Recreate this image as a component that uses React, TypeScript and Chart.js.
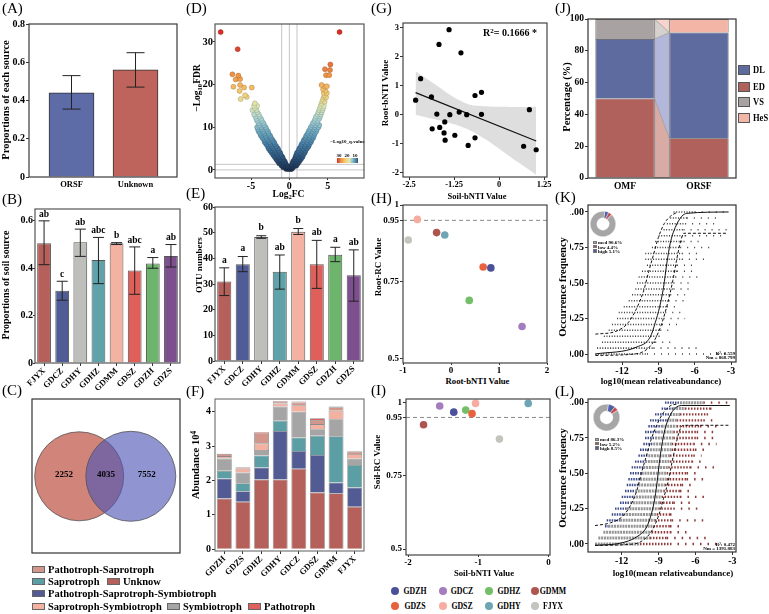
import React, { useEffect, useRef } from 'react';
import { Chart, registerables } from 'chart.js';

Chart.register(...registerables);
const SERIF = '"Liberation Serif", "Times New Roman", serif';
Chart.defaults.font.family = SERIF;
Chart.defaults.color = '#000';

// ================= DATA =================
// (A)
const A_CATS = ['ORSF', 'Unknown'];
const A_VALUES = [0.44, 0.56];
const A_LOW = [0.355, 0.47];
const A_HIGH = [0.53, 0.65];
const A_YTICKS = [0, 0.2, 0.4, 0.6, 0.8];
const A_YLABELS = ['0', '0.2', '0.4', '0.6', '0.8'];

// (B) & (E)
const SITES = ['FJYX', 'GDCZ', 'GDHY', 'GDHZ', 'GDMM', 'GDSZ', 'GDZH', 'GDZS'];
const B_VALUES = [0.505, 0.305, 0.51, 0.435, 0.505, 0.39, 0.42, 0.452];
const B_LOW = [0.415, 0.265, 0.45, 0.335, 0.5, 0.29, 0.4, 0.405];
const B_HIGH = [0.6, 0.345, 0.565, 0.53, 0.508, 0.49, 0.445, 0.5];
const B_LETTERS = ['ab', 'c', 'ab', 'abc', 'b', 'abc', 'a', 'ab'];
const B_YTICKS = [0, 0.2, 0.4, 0.6];
const B_YLABELS = ['0', '0.2', '0.4', '0.6'];

const E_VALUES = [31, 37.7, 48.3, 34.8, 50.4, 37.7, 41.4, 33.4];
const E_LOW = [25.5, 34.8, 47.8, 28, 49.3, 28.3, 38.7, 23.3];
const E_HIGH = [36.3, 40.7, 48.8, 41.3, 51.6, 47, 44.3, 43.3];
const E_LETTERS = ['a', 'a', 'b', 'ab', 'b', 'ab', 'a', 'ab'];
const E_YTICKS = [0, 10, 20, 30, 40, 50, 60];
const E_YLABELS = ['0', '10', '20', '30', '40', '50', '60'];

// (C)
const VENN_COUNTS = ['2252', '4035', '7552'];

// (D) volcano: [log2FC, -log10FDR]
const VOLC_LEFT = [
  [-0.1, 0.2], [-0.4, 0.2], [-0.2, 0.6], [-0.5, 0.6], [-0.8, 0.6], [-0.3, 1.0], [-0.7, 1.0], [-1.0, 1.0],
  [-0.5, 1.5], [-0.9, 1.5], [-1.3, 1.5], [-0.6, 2.0], [-1.0, 2.0], [-1.5, 2.0], [-0.8, 2.5], [-1.2, 2.5], [-1.7, 2.5],
  [-0.9, 3.0], [-1.4, 3.0], [-1.9, 3.0], [-1.1, 3.5], [-1.6, 3.5], [-2.1, 3.5], [-1.2, 4.0], [-1.8, 4.0], [-2.3, 4.0],
  [-1.4, 4.5], [-2.0, 4.5], [-2.5, 4.5], [-1.5, 5.0], [-2.1, 5.0], [-2.7, 5.0], [-1.7, 5.5], [-2.3, 5.5], [-2.8, 5.5],
  [-1.9, 6.0], [-2.5, 6.0], [-3.0, 6.0], [-2.0, 6.5], [-2.6, 6.5], [-3.2, 6.5], [-2.2, 7.0], [-2.8, 7.0], [-3.3, 7.0],
  [-2.4, 7.5], [-3.0, 7.5], [-3.5, 7.5], [-2.5, 8.0], [-3.1, 8.0], [-3.7, 8.0], [-2.7, 8.5], [-3.3, 8.5], [-3.8, 8.5],
  [-2.8, 9.0], [-3.4, 9.0], [-4.0, 9.0], [-3.0, 9.5], [-3.6, 9.5], [-4.1, 9.5], [-3.1, 10.0], [-3.7, 10.0], [-4.2, 10.0],
  [-3.3, 10.5], [-3.9, 10.5], [-3.4, 11.0], [-4.0, 11.0], [-3.6, 11.5], [-4.2, 11.5], [-3.7, 12.0], [-4.3, 12.0],
  [-3.9, 12.5], [-4.4, 12.5], [-4.0, 13.0], [-4.6, 13.0], [-4.2, 13.5], [-4.3, 14.0], [-4.8, 14.0], [-4.5, 14.5],
  [-4.2, 15.0], [-4.6, 15.0], [-4.5, 15.6],
  [-6.35, 16.6], [-5.56, 17.1], [-5.78, 17.5], [-6.5, 18.5], [-4.9, 19.3], [-5.9, 19.3], [-6.43, 19.9], [-7.3, 19.5],
  [-6.43, 21.3], [-7.0, 21.2], [-6.65, 22.1], [-7.43, 22.4], [-6.74, 28.3], [-8.96, 32.3],
];
const VOLC_RIGHT = [
  [0.1, 0.2], [0.3, 0.2], [0.2, 0.6], [0.5, 0.6], [0.3, 1.0], [0.6, 1.0], [0.9, 1.0], [0.4, 1.5], [0.8, 1.5], [1.1, 1.5],
  [0.5, 2.0], [0.9, 2.0], [1.3, 2.0], [0.7, 2.5], [1.1, 2.5], [1.5, 2.5], [0.8, 3.0], [1.2, 3.0], [1.7, 3.0],
  [0.9, 3.5], [1.4, 3.5], [1.8, 3.5], [1.0, 4.0], [1.5, 4.0], [2.0, 4.0], [1.2, 4.5], [1.7, 4.5], [2.1, 4.5],
  [1.3, 5.0], [1.8, 5.0], [2.3, 5.0], [1.5, 5.5], [2.0, 5.5], [2.5, 5.5], [1.6, 6.0], [2.1, 6.0], [2.6, 6.0],
  [1.8, 6.5], [2.3, 6.5], [2.8, 6.5], [1.9, 7.0], [2.4, 7.0], [2.9, 7.0], [2.1, 7.5], [2.6, 7.5], [3.1, 7.5],
  [2.2, 8.0], [2.7, 8.0], [3.2, 8.0], [2.4, 8.5], [2.9, 8.5], [3.3, 8.5], [2.5, 9.0], [3.0, 9.0], [3.5, 9.0],
  [2.7, 9.5], [3.2, 9.5], [3.6, 9.5], [2.8, 10.0], [3.3, 10.0], [3.8, 10.0], [3.0, 10.5], [3.4, 10.5], [3.9, 10.5],
  [3.1, 11.0], [3.6, 11.0], [3.3, 11.5], [3.7, 11.5], [3.4, 12.0], [3.9, 12.0], [3.5, 12.5], [4.0, 12.5],
  [3.7, 13.0], [4.1, 13.0], [3.8, 13.5], [4.2, 13.5], [3.9, 14.0], [4.3, 14.0], [4.0, 14.5], [4.4, 14.5],
  [4.1, 15.0], [4.5, 15.0], [4.2, 15.5], [4.3, 16.0], [4.6, 16.0], [4.4, 16.5], [4.5, 17.0], [4.8, 17.0], [4.6, 17.5],
  [4.5, 18.0], [4.9, 18.0], [4.7, 18.5], [4.4, 18.9], [4.6, 19.5], [4.9, 19.6], [4.2, 19.9],
  [4.78, 22.2], [5.2, 22.2], [5.3, 23.4], [4.65, 23.6], [5.35, 24.7], [6.55, 32.3],
];
const D_VLINES = [-1, 0, 1];
const D_HLINES = [0, 1.3];
const D_XTICKS = [-5, 0, 5];
const D_XLABELS = ['-5', '0', '5'];
const D_YTICKS = [0, 10, 20, 30];
const D_YLABELS = ['0', '10', '20', '30'];
const D_LEGEND_LABELS = ['30', '20', '10'];

// (F)
const F_CATS = ['GDZH', 'GDZS', 'GDHZ', 'GDHY', 'GDCZ', 'GDSZ', 'GDMM', 'FJYX'];
const F_GUILDS = ['Unknow', 'Pathotroph-Saprotroph-Symbiotroph', 'Saprotroph', 'Symbiotroph', 'Saprotroph-Symbiotroph', 'Pathotroph-Saprotroph', 'Pathotroph'];
const F_UNKNOW = [1.48, 1.38, 2.03, 2.03, 2.34, 1.65, 1.63, 1.24];
const F_PSS = [0.58, 0.31, 0.35, 1.41, 0.52, 1.09, 0.31, 0.56];
const F_SAPRO = [0.22, 0.23, 0.35, 0.30, 0.39, 0.56, 1.35, 0.65];
const F_SYMBIO = [0.36, 0.31, 0.16, 0.41, 0.75, 0.19, 0.49, 0.19];
const F_SAPSYM = [0.07, 0.11, 0.19, 0.09, 0.19, 0.15, 0.25, 0.13];
const F_PATSAP = [0.06, 0.04, 0.31, 0.05, 0.08, 0.12, 0.10, 0.07];
const F_PATHO = [0.01, 0.01, 0.02, 0.02, 0.03, 0.05, 0.02, 0.02];
const F_YTICKS = [0, 1, 2, 3, 4];
const F_YLABELS = ['0', '1', '2', '3', '4'];

// (G)
const G_X = [-2.32, -2.18, -1.88, -1.86, -1.73, -1.67, -1.65, -1.53, -1.51, -1.50, -1.39, -1.37, -1.23, -1.11, -1.06, -0.90, -0.86, -0.67, -0.67, -0.49, -0.49, 0.68, 0.84, 1.03];
const G_Y = [0.51, 1.25, 0.62, -0.48, 0.03, 2.43, -0.43, -0.62, -0.24, -0.87, 2.94, 0.01, -0.70, 0.10, 2.14, 0.01, -1.05, 0.67, -0.79, 0.78, 0.02, -1.08, 0.18, -1.20];
const G_FIT_X = [-2.32, 1.03];
const G_FIT_Y = [0.77, -0.90];
const G_BAND_X = [-2.32, -1.76, -1.30, -0.84, -0.37, 0.09, 0.56, 1.03];
const G_BAND_UP = [1.51, 1.04, 0.64, 0.36, 0.30, 0.28, 0.27, 0.28];
const G_BAND_LO = [0.01, -0.16, -0.30, -0.51, -0.85, -1.25, -1.66, -2.06];
const G_XTICKS = [-2.5, -1.25, 0, 1.25];
const G_XLABELS = ['-2.5', '-1.25', '0', '1.25'];
const G_YTICKS = [-2, -1, 0, 1, 2, 3];
const G_YLABELS = ['-2', '-1', '0', '1', '2', '3'];

// (H) & (I)
const RC_SITES = ['GDZH', 'GDCZ', 'GDHZ', 'GDMM', 'GDZS', 'GDSZ', 'GDHY', 'FJYX'];
const H_X = [0.83, 1.48, 0.38, -0.30, 0.67, -0.70, -0.13, -0.89];
const H_Y = [0.795, 0.604, 0.689, 0.91, 0.798, 0.953, 0.902, 0.886];
const I_X = [-1.35, -1.55, -1.18, -1.78, -1.09, -1.04, -0.29, -0.70];
const I_Y = [0.968, 0.989, 0.975, 0.925, 0.963, 0.998, 0.998, 0.876];
const RC_THRESHOLD = 0.95;
const RC_YTICKS = [0.5, 0.75, 0.95, 1];
const RC_YLABELS = ['0.5', '0.75', '0.95', '1'];
const H_XTICKS = [-1, 0, 1, 2];
const H_XLABELS = ['-1', '0', '1', '2'];
const I_XTICKS = [-2, -1, 0];
const I_XLABELS = ['-2', '-1', '0'];

// (J)
const J_CATS = ['OMF', 'ORSF'];
const J_GROUPS = ['ED', 'DL', 'VS', 'HeS'];
const J_ED = [50, 25];
const J_DL = [37.5, 66.5];
const J_VS = [12.5, 0];
const J_HES = [0, 8.5];
const J_YTICKS = [0, 20, 40, 60, 80, 100];
const J_YLABELS = ['0', '20', '40', '60', '80', '100'];

// (K) & (L) neutral community model
const ROW_Y = [0, 0.042, 0.083, 0.125, 0.167, 0.208, 0.25, 0.292, 0.333, 0.375, 0.417, 0.458, 0.5, 0.542, 0.583, 0.625, 0.667, 0.708, 0.75, 0.792, 0.833, 0.875, 0.917, 0.958, 1];
const K_START = [-14.2, -14.06, -13.65, -13.5, -13.1, -12.82, -12.41, -12.27, -11.86, -11.45, -11.18, -10.9, -10.77, -10.63, -10.35, -9.94, -10.08, -10.08, -9.53, -9.26, -8.98, -8.57, -8.3, -8.02, -7.75];
const K_DENSE_END = [-9.94, -9.4, -9.26, -8.98, -8.84, -8.7, -8.57, -8.43, -8.3, -8.16, -8.02, -7.75, -7.75, -7.6, -7.47, -7.47, -7.06, -7.06, -7.2, -6.92, -6.79, -6.92, -6.79, -6.65, -6.0];
const K_SPARSE_END = [-3.35, -5.83, -8.02, -8.43, -8.02, -7.47, -6.79, -6.92, -7.47, -6.92, -6.79, -6.1, -6.37, -5.69, -6.1, -6.1, -4.86, -5.55, -4.73, -5.28, -3.63, -3.35, -3.9, -4.18, -3.2];
const K_CURVE_X = [-14.2, -10.77, -9.67, -9.26, -8.9, -8.57, -8.3, -8.02, -7.61, -7.06, -6.65, -3.2];
const K_CURVE_Y = [0, 0.05, 0.12, 0.22, 0.33, 0.47, 0.64, 0.78, 0.89, 0.97, 0.99, 1.0];
const K_UP_X = [-14.2, -12.5, -11.5, -10.8, -10.2, -9.8, -9.4, -9.0, -8.5, -8.0, -7.4];
const K_UP_Y = [0.14, 0.16, 0.22, 0.32, 0.45, 0.58, 0.7, 0.82, 0.92, 0.97, 1.0];
const K_LO_X = [-14.2, -11, -10, -9.3, -8.7, -8.2, -7.8, -7.5, -7.2, -6.9, -3.3];
const K_LO_Y = [-0.01, 0, 0.03, 0.1, 0.22, 0.37, 0.52, 0.66, 0.78, 0.85, 0.85];
const K_DONUT = [5.1, 4.4, 90.6];
const K_DONUT_TEXT = ['med 90.6%', 'low 4.4%', 'high 5.1%'];
const K_STATS = ['R\u00b2: 0.559', 'Nm = 868.799'];

const L_BLUE_START = [-14.17, -13.90, -13.49, -13.36, -13.22, -12.81, -12.54, -12.14, -12.00, -11.73, -11.59, -11.46, -11.32, -11.19, -10.92, -10.64, -10.51, -10.24, -10.10, -10.10, -9.83, -9.70, -9.29, -8.75, -8.48];
const L_GRAY_START = [-14.17, -13.90, -13.49, -13.08, -12.14, -11.86, -11.59, -11.32, -11.05, -10.92, -10.64, -10.51, -10.37, -10.24, -10.10, -9.83, -9.70, -9.43, -9.29, -9.02, -8.75, -8.34, -8.07, -7.80, -7.26];
const L_RED_START = [-10.51, -9.70, -9.56, -9.43, -9.29, -9.15, -9.02, -8.88, -8.75, -8.61, -8.48, -8.34, -8.34, -8.21, -8.07, -8.07, -7.93, -7.93, -7.80, -7.80, -7.53, -7.53, -7.26, -6.85, -5.36];
const L_DENSE_END = [-8.07, -8.34, -8.07, -8.07, -7.93, -8.07, -7.80, -7.80, -7.26, -7.26, -7.12, -6.72, -6.72, -6.44, -6.31, -6.17, -6.04, -6.17, -5.90, -5.90, -5.63, -5.36, -5.09, -4.82, -5.36];
const L_SPARSE_END = [-4.28, -4.68, -6.72, -6.99, -5.36, -7.53, -5.36, -6.44, -4.82, -6.31, -5.90, -5.09, -5.90, -4.01, -5.09, -5.50, -4.95, -4.28, -4.41, -4.28, -4.01, -4.55, -4.82, -4.55, -3.19];
const L_CURVE_X = [-14.17, -12.14, -10.78, -9.97, -9.56, -9.29, -9.1, -8.94, -8.75, -8.48, -8.12, -7.66, -7.12, -3.2];
const L_CURVE_Y = [-0.01, 0.005, 0.05, 0.12, 0.22, 0.33, 0.45, 0.57, 0.69, 0.81, 0.9, 0.96, 0.98, 0.98];
const L_UP_X = [-14.17, -12.9, -12, -11.3, -10.8, -10.4, -10.0, -9.6, -9.1, -8.6, -8.0, -7.5];
const L_UP_Y = [0.13, 0.15, 0.19, 0.27, 0.37, 0.5, 0.62, 0.74, 0.85, 0.93, 0.98, 0.99];
const L_LO_X = [-14.17, -11, -10.2, -9.5, -9.0, -8.6, -8.2, -7.9, -7.6, -7.3, -7.0, -3.2];
const L_LO_Y = [-0.01, 0, 0.03, 0.1, 0.2, 0.32, 0.45, 0.58, 0.7, 0.8, 0.84, 0.84];
const L_DONUT = [8.5, 5.2, 86.3];
const L_DONUT_TEXT = ['med 86.3%', 'low 5.2%', 'high 8.5%'];
const L_STATS = ['R\u00b2: 0.472', 'Nm = 1391.883'];
const NCM_XTICKS = [-12, -9, -6, -3];
const NCM_XLABELS = ['-12', '-9', '-6', '-3'];
const NCM_YTICKS = [0, 0.25, 0.5, 0.75, 1];
const NCM_YLABELS = ['0.00', '0.25', '0.50', '0.75', '1.00'];

// ================= STYLES =================
const A_COLORS = ['#5D6BA6', '#BF645D'];
const SITE_COLORS = ['#B5605A', '#505C96', '#BEBEBA', '#5FA2AA', '#F3B2A2', '#DF605A', '#6DB56D', '#7D4F8E'];
const F_COLORS = ['#B5605A', '#525B94', '#5B9EA4', '#A5A5A5', '#F2B1A1', '#D3968C', '#E0605D'];
const RC_COLORS = ['#4B509B', '#A57DBE', '#73BE69', '#AF5550', '#E8623E', '#F7ACA0', '#6EA5B4', '#C4C4BE'];
const J_COLORS = ['#B1615B', '#5E6B9F', '#A9A2A2', '#F3B6A6'];
const J_LIGHT = ['#D9ABA5', '#B3B7DA', '#D6D1CF', '#F8D5CC'];
const DONUT_COLORS = ['#4C5FA8', '#C0504D', '#A6A6A6'];
const Q_STOPS = [
  [0, 30, 50, 80], [3, 45, 85, 125], [6, 70, 125, 165], [9, 110, 170, 195], [12, 170, 212, 215],
  [15, 222, 232, 182], [18, 245, 205, 115], [22, 240, 150, 70], [30, 215, 48, 39],
];
function qColor(v: number, k = 1, a = 1) {
  let i = 0;
  while (i < Q_STOPS.length - 2 && v > Q_STOPS[i + 1][0]) i++;
  const s0 = Q_STOPS[i];
  const s1 = Q_STOPS[i + 1];
  const t = Math.max(0, Math.min(1, (v - s0[0]) / (s1[0] - s0[0])));
  const c = [1, 2, 3].map((j) => Math.round((s0[j] + (s1[j] - s0[j]) * t) * k));
  return `rgba(${c[0]},${c[1]},${c[2]},${a})`;
}

// ================= HELPERS =================
function lay(cx: number, cy: number, cw: number, ch: number, L: number, T: number, R: number, B: number) {
  return { cx, cy, cw, ch, padding: { left: 0, top: T - cy, right: cx + cw - R, bottom: 0 }, yW: L - cx, xH: cy + ch - B };
}
const setTicks = (vals: number[]) => (s: any) => { s.ticks = vals.map((v) => ({ value: v })); };
const labelsOf = (labels: string[]) => (_v: any, i: number) => labels[i];
const pts = (xs: number[], ys: number[]) => xs.map((x, i) => ({ x, y: ys[i] }));
function segs(a: number[], b: number[]) {
  const out: any[] = [];
  ROW_Y.forEach((y, i) => {
    if (b[i] > a[i]) out.push({ x: a[i], y }, { x: b[i], y }, { x: b[i], y: null });
  });
  return out;
}

function xAxis(l: any, o: any = {}) {
  const { ticks = {}, grid = {}, ...rest } = o;
  return {
    ...rest,
    border: { display: false },
    grid: { display: true, drawOnChartArea: false, drawTicks: true, tickLength: 3, color: '#333', ...grid },
    ticks: { color: '#000', font: { size: 10, weight: 'bold' }, padding: 1, autoSkip: false, maxRotation: 0, ...ticks },
    afterFit: (s: any) => { s.height = l.xH; s.paddingLeft = 0; s.paddingRight = 0; },
  };
}
function yAxis(l: any, o: any = {}) {
  const { ticks = {}, grid = {}, ...rest } = o;
  return {
    ...rest,
    border: { display: false },
    grid: { display: true, drawOnChartArea: false, drawTicks: true, tickLength: 3, color: '#333', ...grid },
    ticks: { color: '#000', font: { size: 10, weight: 'bold' }, padding: 1, autoSkip: false, ...ticks },
    afterFit: (s: any) => { s.width = l.yW; s.paddingTop = 0; s.paddingBottom = 0; },
  };
}
function opts(l: any, scales: any, extra: any = {}) {
  return {
    animation: false, responsive: false, events: [],
    layout: { padding: l.padding, autoPadding: false },
    plugins: { legend: { display: false }, tooltip: { enabled: false } },
    scales, ...extra,
  };
}
const framePlugin = (color = '#3a3a3a', lw = 1.2) => ({
  id: 'frame',
  afterDraw(chart: any) {
    const { ctx, chartArea: a } = chart;
    ctx.save();
    ctx.strokeStyle = color;
    ctx.lineWidth = lw;
    ctx.strokeRect(a.left, a.top, a.right - a.left, a.bottom - a.top);
    ctx.restore();
  },
});
function errPlugin(low: number[], high: number[], cap: number, letters?: string[], gap = 2) {
  return {
    id: 'errbars',
    afterDatasetsDraw(chart: any) {
      const { ctx } = chart;
      const ys = chart.scales.y;
      const meta = chart.getDatasetMeta(0);
      ctx.save();
      ctx.strokeStyle = '#222';
      ctx.lineWidth = 1;
      meta.data.forEach((bar: any, i: number) => {
        const x = bar.x;
        const yl = ys.getPixelForValue(low[i]);
        const yh = ys.getPixelForValue(high[i]);
        ctx.beginPath();
        ctx.moveTo(x, yl); ctx.lineTo(x, yh);
        ctx.moveTo(x - cap / 2, yl); ctx.lineTo(x + cap / 2, yl);
        ctx.moveTo(x - cap / 2, yh); ctx.lineTo(x + cap / 2, yh);
        ctx.stroke();
        if (letters) {
          ctx.fillStyle = '#000';
          ctx.font = `bold 9.5px ${SERIF}`;
          ctx.textAlign = 'center';
          ctx.textBaseline = 'bottom';
          ctx.fillText(letters[i], x, yh - gap);
        }
      });
      ctx.restore();
    },
  };
}

function ChartCanvas({ l, build }: { l: any; build: () => any }) {
  const ref = useRef<HTMLCanvasElement | null>(null);
  useEffect(() => {
    if (!ref.current) return;
    const c = new Chart(ref.current, build());
    return () => c.destroy();
  }, []);
  return <canvas ref={ref} width={l.cw} height={l.ch} style={{ position: 'absolute', left: l.cx, top: l.cy, width: l.cw, height: l.ch }} />;
}

function Txt({ x, y, children, size = 10, bold = true, rot = 0, align = 'center', sx = 1, color = '#000' }: any) {
  const tx = align === 'center' ? '-50%' : align === 'right' ? '-100%' : '0%';
  const origin = align === 'center' ? 'center' : align === 'right' ? 'right center' : 'left center';
  return (
    <div style={{
      position: 'absolute', left: x, top: y, transform: `translate(${tx}, -50%) rotate(${rot}deg) scaleX(${sx})`, transformOrigin: origin,
      fontFamily: SERIF, fontSize: size, fontWeight: bold ? 700 : 400, lineHeight: 1, whiteSpace: 'nowrap', color,
    }}>{children}</div>
  );
}
const Sub = ({ children }: any) => <span style={{ fontSize: '70%', verticalAlign: '-0.25em' }}>{children}</span>;
const Sup = ({ children }: any) => <span style={{ fontSize: '70%', verticalAlign: '0.45em' }}>{children}</span>;
function Swatch({ x, y, w, h, color, round = false, border = '#666' }: any) {
  return <div style={{ position: 'absolute', left: x, top: y - h / 2, width: w, height: h, background: color, border: round ? 'none' : `1px solid ${border}`, boxSizing: 'border-box', borderRadius: round ? '50%' : 0 }} />;
}

// ================= CHARTS =================
const LA = lay(0, 0, 190, 195, 29, 24, 177, 177);
const buildA = () => ({
  type: 'bar',
  data: { datasets: [{ data: pts([0, 1], A_VALUES), backgroundColor: A_COLORS, borderColor: '#333', borderWidth: 1, barThickness: 45 }] },
  options: opts(LA, {
    x: xAxis(LA, { type: 'linear', offset: false, min: -0.664, max: 1.648, afterBuildTicks: setTicks([0, 1]), ticks: { callback: labelsOf(A_CATS), font: { size: 8.5, weight: 'bold' }, padding: 3 }, grid: { drawTicks: false } }),
    y: yAxis(LA, { min: 0, max: 0.8, afterBuildTicks: setTicks(A_YTICKS), ticks: { callback: labelsOf(A_YLABELS) } }),
  }),
  plugins: [framePlugin(), errPlugin(A_LOW, A_HIGH, 18)],
});

const siteBar = (l: any, values: number[], low: number[], high: number[], letters: string[], ymin: number, ymax: number, yt: number[], yl: string[], cap: number, gap: number) => ({
  type: 'bar',
  data: { labels: SITES, datasets: [{ data: values, backgroundColor: SITE_COLORS, borderColor: '#555', borderWidth: 1, categoryPercentage: 1, barPercentage: 0.76 }] },
  options: opts(l, {
    x: xAxis(l, { grid: { offset: false }, ticks: { maxRotation: 45, minRotation: 45, font: { size: 8.5, weight: 'bold' }, padding: 0 } }),
    y: yAxis(l, { min: ymin, max: ymax, afterBuildTicks: setTicks(yt), ticks: { callback: labelsOf(yl), padding: 0 }, grid: { tickLength: 2 } }),
  }),
  plugins: [framePlugin('#555'), errPlugin(low, high, cap, letters, gap)],
});
const LB = lay(0, 190, 190, 200, 35, 209, 180, 363);
const buildB = () => siteBar(LB, B_VALUES, B_LOW, B_HIGH, B_LETTERS, 0, 0.65, B_YTICKS, B_YLABELS, 11, 2);
const LE = lay(190, 190, 180, 200, 215, 207, 363, 361);
const buildE = () => siteBar(LE, E_VALUES, E_LOW, E_HIGH, E_LETTERS, 0, 60, E_YTICKS, E_YLABELS, 10, 3);

const LC = { cx: 31, cy: 398, cw: 150, ch: 156, padding: { left: 1, top: 1, right: 1, bottom: 1 } };
const VENN_GEOM = [{ x: 98.8, y: 76.7, r: 45 }, { x: 47.2, y: 76.7, r: 44.5 }];
const buildC = () => ({
  type: 'bubble',
  data: {
    datasets: [
      { data: [VENN_GEOM[0]], backgroundColor: 'rgba(76,84,181,0.62)', borderColor: '#555', borderWidth: 0.8, clip: false },
      { data: [VENN_GEOM[1]], backgroundColor: 'rgb(208,132,122)', borderColor: '#555', borderWidth: 0.8, clip: false },
    ],
  },
  options: opts(LC, { x: { type: 'linear', display: false, min: 0, max: 148 }, y: { type: 'linear', display: false, min: 0, max: 154 } }),
  plugins: [framePlugin('#333', 1.2)],
});

const LD = lay(190, 0, 180, 190, 215, 24, 364, 178);
const volcLines = {
  id: 'vlines',
  beforeDatasetsDraw(chart: any) {
    const { ctx, chartArea: a, scales } = chart;
    ctx.save();
    ctx.strokeStyle = '#c4c4c4';
    ctx.lineWidth = 1;
    ctx.beginPath();
    D_VLINES.forEach((v) => { const p = scales.x.getPixelForValue(v); ctx.moveTo(p, a.top); ctx.lineTo(p, a.bottom); });
    D_HLINES.forEach((v) => { const p = scales.y.getPixelForValue(v); ctx.moveTo(a.left, p); ctx.lineTo(a.right, p); });
    ctx.stroke();
    ctx.restore();
  },
};
const buildD = () => ({
  type: 'scatter',
  data: {
    datasets: [{
      data: [...VOLC_LEFT, ...VOLC_RIGHT].sort((p, q) => p[1] - q[1]).map((p) => ({ x: p[0], y: p[1] })),
      pointRadius: 2.5,
      backgroundColor: (c: any) => (c.raw ? qColor(c.raw.y) : '#000'),
      borderColor: (c: any) => (c.raw ? qColor(c.raw.y, 0.7, 0.8) : '#000'),
      borderWidth: 0.6,
    }],
  },
  options: opts(LD, {
    x: xAxis(LD, { type: 'linear', min: -9.7, max: 9.74, afterBuildTicks: setTicks(D_XTICKS), ticks: { callback: labelsOf(D_XLABELS), padding: 0 }, grid: { tickLength: 2 } }),
    y: yAxis(LD, { min: -1.9, max: 34.2, afterBuildTicks: setTicks(D_YTICKS), ticks: { callback: labelsOf(D_YLABELS), font: { size: 10.5, weight: 'bold' }, padding: 0 }, grid: { tickLength: 2 } }),
  }),
  plugins: [volcLines, framePlugin('#555')],
});

const LF = lay(190, 390, 180, 190, 215, 399, 364, 551);
const F_SERIES = [F_UNKNOW, F_PSS, F_SAPRO, F_SYMBIO, F_SAPSYM, F_PATSAP, F_PATHO];
const buildF = () => ({
  type: 'bar',
  data: {
    labels: F_CATS,
    datasets: F_SERIES.map((d, i) => ({ label: F_GUILDS[i], data: d, backgroundColor: F_COLORS[i], borderColor: '#8a8a8a', borderWidth: 0.8, categoryPercentage: 1, barPercentage: 0.8 })),
  },
  options: opts(LF, {
    x: xAxis(LF, { stacked: true, grid: { offset: false }, ticks: { maxRotation: 45, minRotation: 45, font: { size: 8.5, weight: 'bold' }, padding: 0 } }),
    y: yAxis(LF, { stacked: true, min: -0.05, max: 4.37, afterBuildTicks: setTicks(F_YTICKS), ticks: { callback: labelsOf(F_YLABELS) } }),
  }),
  plugins: [framePlugin('#777')],
});

const LG = lay(370, 0, 190, 190, 403, 23, 547, 177);
const buildG = () => ({
  type: 'line',
  data: {
    datasets: [
      { data: pts(G_X, G_Y), showLine: false, pointRadius: 2.6, pointBackgroundColor: '#000', pointBorderWidth: 0 },
      { data: pts(G_FIT_X, G_FIT_Y), borderColor: '#111', borderWidth: 1.2, pointRadius: 0 },
      { data: pts(G_BAND_X, G_BAND_LO), borderWidth: 0, pointRadius: 0, fill: false, tension: 0.35 },
      { data: pts(G_BAND_X, G_BAND_UP), borderWidth: 0, pointRadius: 0, fill: '-1', backgroundColor: 'rgba(200,200,200,0.6)', tension: 0.35 },
    ],
  },
  options: opts(LG, {
    x: xAxis(LG, { type: 'linear', min: -2.67, max: 1.33, afterBuildTicks: setTicks(G_XTICKS), ticks: { callback: labelsOf(G_XLABELS), font: { size: 8.5, weight: 'bold' }, padding: 0 } }),
    y: yAxis(LG, { min: -2.14, max: 3.17, afterBuildTicks: setTicks(G_YTICKS), ticks: { callback: labelsOf(G_YLABELS), font: { size: 8.5, weight: 'bold' } } }),
  }),
  plugins: [framePlugin('#444')],
});

const rcChart = (l: any, xs: number[], ys: number[], xmin: number, xmax: number, ymin: number, ymax: number, xt: number[], xl: string[]) => ({
  type: 'line',
  data: {
    datasets: [
      { data: pts(xs, ys), showLine: false, pointRadius: 3.8, pointBackgroundColor: RC_COLORS, pointBorderWidth: 0 },
      { data: pts([xmin, xmax], [RC_THRESHOLD, RC_THRESHOLD]), borderColor: '#8a8a8a', borderWidth: 1, borderDash: [4, 3], pointRadius: 0 },
    ],
  },
  options: opts(l, {
    x: xAxis(l, { type: 'linear', min: xmin, max: xmax, afterBuildTicks: setTicks(xt), ticks: { callback: labelsOf(xl), font: { size: 9, weight: 'bold' }, padding: 0 }, grid: { tickLength: 2 } }),
    y: yAxis(l, { min: ymin, max: ymax, afterBuildTicks: setTicks(RC_YTICKS), ticks: { callback: labelsOf(RC_YLABELS), font: { size: 9, weight: 'bold' } } }),
  }),
  plugins: [framePlugin('#444')],
});
const LH = lay(370, 190, 190, 185, 403, 205, 547, 363);
const buildH = () => rcChart(LH, H_X, H_Y, -1, 2, 0.485, 1.0, H_XTICKS, H_XLABELS);
const LI = lay(370, 390, 190, 178, 406, 399, 550, 555);
const buildI = () => rcChart(LI, I_X, I_Y, -2.03, 0.02, 0.48, 1.013, I_XTICKS, I_XLABELS);

const LJ = lay(570, 0, 170, 192, 588, 19, 736, 178);
const J_SERIES = [J_ED, J_DL, J_VS, J_HES];
const jConnect = {
  id: 'jconnect',
  beforeDatasetsDraw(chart: any) {
    const { ctx } = chart;
    ctx.save();
    chart.data.datasets.forEach((_d: any, i: number) => {
      const meta = chart.getDatasetMeta(i);
      const b0 = meta.data[0].getProps(['x', 'y', 'base', 'width'], true);
      const b1 = meta.data[1].getProps(['x', 'y', 'base', 'width'], true);
      ctx.fillStyle = J_LIGHT[i];
      ctx.strokeStyle = '#9a9a9a';
      ctx.lineWidth = 0.6;
      ctx.beginPath();
      ctx.moveTo(b0.x + b0.width / 2, b0.y);
      ctx.lineTo(b1.x - b1.width / 2, b1.y);
      ctx.lineTo(b1.x - b1.width / 2, b1.base);
      ctx.lineTo(b0.x + b0.width / 2, b0.base);
      ctx.closePath();
      ctx.fill();
      ctx.stroke();
    });
    ctx.restore();
  },
};
const buildJ = () => ({
  type: 'bar',
  data: { labels: J_CATS, datasets: J_SERIES.map((d, i) => ({ label: J_GROUPS[i], data: d, backgroundColor: J_COLORS[i], borderColor: '#444', borderWidth: 0.8, categoryPercentage: 1, barPercentage: 0.8 })) },
  options: opts(LJ, {
    x: xAxis(LJ, { stacked: true, grid: { drawTicks: false }, ticks: { font: { size: 9.5, weight: 'bold' }, padding: 3 } }),
    y: yAxis(LJ, { stacked: true, min: 0, max: 100, afterBuildTicks: setTicks(J_YTICKS), ticks: { callback: labelsOf(J_YLABELS), font: { size: 9.5, weight: 'bold' } } }),
  }),
  plugins: [jConnect, framePlugin('#333')],
});

const curveSets = (cx: number[], cy: number[], ux: number[], uy: number[], lx: number[], ly: number[]) => [
  { data: pts(cx, cy), borderColor: '#111', borderWidth: 1, pointRadius: 0, cubicInterpolationMode: 'monotone' },
  { data: pts(ux, uy), borderColor: '#111', borderWidth: 1, borderDash: [3, 2], pointRadius: 0, cubicInterpolationMode: 'monotone' },
  { data: pts(lx, ly), borderColor: '#111', borderWidth: 1, borderDash: [3, 2], pointRadius: 0, cubicInterpolationMode: 'monotone' },
];
const ncmScales = (l: any, xmin: number, xmax: number, ymin: number, ymax: number) => ({
  x: xAxis(l, { type: 'linear', min: xmin, max: xmax, afterBuildTicks: setTicks(NCM_XTICKS), ticks: { callback: labelsOf(NCM_XLABELS), padding: 0 } }),
  y: yAxis(l, { min: ymin, max: ymax, afterBuildTicks: setTicks(NCM_YTICKS), ticks: { callback: labelsOf(NCM_YLABELS) } }),
});
const LK = lay(570, 190, 199, 186, 588, 205, 736, 362);
const buildK = () => ({
  type: 'line',
  data: {
    datasets: [
      ...curveSets(K_CURVE_X, K_CURVE_Y, K_UP_X, K_UP_Y, K_LO_X, K_LO_Y),
      { data: segs(K_START, K_DENSE_END), borderColor: '#3a3a3a', borderWidth: 1.6, borderDash: [1, 1.6], pointRadius: 0 },
      { data: segs(K_DENSE_END, K_SPARSE_END), borderColor: '#3a3a3a', borderWidth: 1.6, borderDash: [1, 6], pointRadius: 0 },
    ],
  },
  options: opts(LK, ncmScales(LK, -14.81, -2.59, -0.056, 1.049)),
  plugins: [framePlugin('#333')],
});
const LL = lay(570, 390, 199, 178, 588, 399, 736, 552);
const buildL = () => ({
  type: 'line',
  data: {
    datasets: [
      ...curveSets(L_CURVE_X, L_CURVE_Y, L_UP_X, L_UP_Y, L_LO_X, L_LO_Y),
      { data: segs(L_BLUE_START, L_GRAY_START), borderColor: '#3D4A8A', borderWidth: 2.4, borderDash: [1.5, 1], pointRadius: 0 },
      { data: segs(L_GRAY_START, L_RED_START), borderColor: '#959595', borderWidth: 3, borderDash: [2, 0.8], pointRadius: 0 },
      { data: segs(L_RED_START, L_DENSE_END), borderColor: '#8E3B3B', borderWidth: 2.4, borderDash: [1.5, 1.5], pointRadius: 0 },
      { data: segs(L_DENSE_END, L_SPARSE_END), borderColor: '#8E3B3B', borderWidth: 2.4, borderDash: [1.5, 6], pointRadius: 0 },
    ],
  },
  options: opts(LL, ncmScales(LL, -14.74, -2.7, -0.057, 1.026)),
  plugins: [framePlugin('#333')],
});
const donut = (values: number[]) => () => ({
  type: 'doughnut',
  data: { labels: ['high', 'low', 'med'], datasets: [{ data: values, backgroundColor: DONUT_COLORS, borderColor: '#fff', borderWidth: 0.4 }] },
  options: { animation: false, responsive: false, events: [], cutout: '48%', rotation: 8, plugins: { legend: { display: false }, tooltip: { enabled: false } } },
});
const LKD = { cx: 589.5, cy: 210.7, cw: 26, ch: 26 };
const LLD = { cx: 593, cy: 403.5, cw: 27, ch: 27 };

// ================= LAYOUT TEXT =================
const PANEL_LABELS: [string, number, number][] = [
  ['(A)', 2, 8], ['(B)', 2, 199], ['(C)', 2, 390], ['(D)', 186, 8], ['(E)', 186, 193], ['(F)', 186, 391],
  ['(G)', 371, 8], ['(H)', 371, 198], ['(I)', 371, 390], ['(J)', 555, 8], ['(K)', 555, 197], ['(L)', 555, 391],
];
const F_LEGEND_POS = [
  { i: 5, sw: 32, y: 569.5 }, { i: 2, sw: 32, y: 581.7 }, { i: 0, sw: 107, y: 581.7 }, { i: 1, sw: 32, y: 593.5 },
  { i: 4, sw: 32, y: 606.7 }, { i: 3, sw: 167, y: 606.7 }, { i: 6, sw: 248, y: 606.7 },
];
const I_LEG_CX = [395, 442.7, 489.3, 535];
const I_LEG_TX = [415, 461.5, 508.5, 553];
const I_LEG_Y = [591, 606];
const J_LEG_Y = [70, 87, 102, 118];
const J_LEG_ORDER = [1, 0, 2, 3];

export default function App() {
  return (
    <div style={{ position: 'absolute', left: 0, top: 0, width: 769, height: 614, background: '#fff', overflow: 'hidden', fontFamily: SERIF }}>
      <ChartCanvas l={LA} build={buildA} />
      <ChartCanvas l={LB} build={buildB} />
      <ChartCanvas l={LC} build={buildC} />
      <ChartCanvas l={LD} build={buildD} />
      <ChartCanvas l={LE} build={buildE} />
      <ChartCanvas l={LF} build={buildF} />
      <ChartCanvas l={LG} build={buildG} />
      <ChartCanvas l={LH} build={buildH} />
      <ChartCanvas l={LI} build={buildI} />
      <ChartCanvas l={LJ} build={buildJ} />
      <ChartCanvas l={LK} build={buildK} />
      <ChartCanvas l={LL} build={buildL} />
      <ChartCanvas l={LKD} build={donut(K_DONUT)} />
      <ChartCanvas l={LLD} build={donut(L_DONUT)} />

      {PANEL_LABELS.map(([t, x, y]) => <Txt key={t} x={x} y={y} size={15} bold={false} align="left">{t}</Txt>)}

      {/* axis titles */}
      <Txt x={6} y={100} size={10.5} rot={-90}>Proportions of each source</Txt>
      <Txt x={6} y={285} size={10} rot={-90}>Proportions of soil source</Txt>
      <Txt x={198} y={88} size={9.5} rot={-90}>−Log<Sub>10</Sub>FDR</Txt>
      <Txt x={288.5} y={195} size={9.5}>Log<Sub>2</Sub>FC</Txt>
      <Txt x={198.5} y={265} size={9} rot={-90}>OTU numbers</Txt>
      <Txt x={195.5} y={465} size={10.5} rot={-90}>Abundance 10<Sup>4</Sup></Txt>
      <Txt x={385} y={93} size={9} rot={-90}>Root-bNTI Value</Txt>
      <Txt x={477} y={195.5} size={8.5}>Soil-bNTI Value</Txt>
      <Txt x={378} y={267} size={9} rot={-90}>Root-RC Value</Txt>
      <Txt x={477.5} y={381} size={8.7}>Root-bNTI Value</Txt>
      <Txt x={377} y={461.5} size={9} rot={-90}>Soil-RC Value</Txt>
      <Txt x={484} y={573} size={8.7}>Soil-bNTI Value</Txt>
      <Txt x={567} y={97} size={10.5} rot={-90}>Percentage (%)</Txt>
      <Txt x={563} y={287} size={10.5} rot={-90}>Occurrence frequency</Txt>
      <Txt x={563} y={478} size={10.5} rot={-90}>Occurrence frequency</Txt>
      <Txt x={661} y={381} size={9}>log10(mean relativeabundance)</Txt>
      <Txt x={673} y={573.3} size={9}>log10(mean relativeabundance)</Txt>

      {/* Venn counts */}
      <Txt x={64} y={474} size={9}>{VENN_COUNTS[0]}</Txt>
      <Txt x={106} y={474} size={9}>{VENN_COUNTS[1]}</Txt>
      <Txt x={146.7} y={474} size={9}>{VENN_COUNTS[2]}</Txt>

      {/* volcano legend */}
      <Txt x={347.5} y={141} size={5}>−Log10_q-value</Txt>
      {D_LEGEND_LABELS.map((t, i) => <Txt key={t} x={339 + i * 8} y={154.5} size={5}>{t}</Txt>)}
      <div style={{ position: 'absolute', left: 337, top: 157.5, width: 21, height: 5, background: 'linear-gradient(to right, rgb(215,48,39), rgb(240,150,70), rgb(245,205,115), rgb(222,232,182), rgb(110,170,195), rgb(45,85,125))' }} />

      {/* G annotation */}
      <Txt x={510} y={33} size={10}>R<Sup>2</Sup>= 0.1666 *</Txt>

      {/* F legend */}
      {F_LEGEND_POS.map((p) => (
        <React.Fragment key={p.i}>
          <Swatch x={p.sw} y={p.y} w={13} h={7.5} color={F_COLORS[p.i]} />
          <Txt x={p.sw + 16} y={p.y} size={10.5} align="left">{F_GUILDS[p.i]}</Txt>
        </React.Fragment>
      ))}

      {/* RC legend */}
      {RC_SITES.map((s, i) => {
        const col = i % 4;
        const row = Math.floor(i / 4);
        return (
          <React.Fragment key={s}>
            <Swatch x={I_LEG_CX[col] - 4} y={I_LEG_Y[row]} w={8} h={8} color={RC_COLORS[i]} round />
            <Txt x={I_LEG_TX[col]} y={I_LEG_Y[row]} size={10} sx={0.78}>{s}</Txt>
          </React.Fragment>
        );
      })}

      {/* J legend */}
      {J_LEG_ORDER.map((gi, r) => (
        <React.Fragment key={gi}>
          <Swatch x={738} y={J_LEG_Y[r]} w={12} h={10} color={J_COLORS[gi]} border="#555" />
          <Txt x={753} y={J_LEG_Y[r]} size={10} sx={0.85} align="left">{J_GROUPS[gi]}</Txt>
        </React.Fragment>
      ))}

      {/* K / L donut legends and stats */}
      {K_DONUT_TEXT.map((t, r) => (
        <React.Fragment key={t}>
          <Swatch x={593} y={242.3 + r * 4.4} w={4} h={3.6} color={DONUT_COLORS[2 - r]} border="#777" />
          <Txt x={598} y={242.3 + r * 4.4} size={5} align="left">{t}</Txt>
        </React.Fragment>
      ))}
      {L_DONUT_TEXT.map((t, r) => (
        <React.Fragment key={t}>
          <Swatch x={595} y={439.3 + r * 4.4} w={4} h={3.6} color={DONUT_COLORS[2 - r]} border="#777" />
          <Txt x={600} y={439.3 + r * 4.4} size={5} align="left">{t}</Txt>
        </React.Fragment>
      ))}
      <Txt x={735} y={352.5} size={5} align="right">{K_STATS[0]}</Txt>
      <Txt x={735} y={357.3} size={5} align="right">{K_STATS[1]}</Txt>
      <Txt x={735} y={543.5} size={5} align="right">{L_STATS[0]}</Txt>
      <Txt x={735} y={548.3} size={5} align="right">{L_STATS[1]}</Txt>
    </div>
  );
}
